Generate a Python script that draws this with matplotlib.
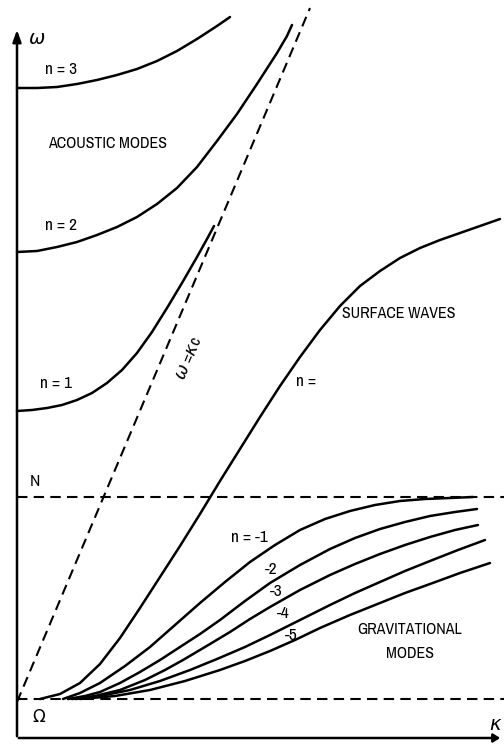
import matplotlib
matplotlib.use("Agg")
import matplotlib.pyplot as plt
from matplotlib import font_manager

# dispersion diagram, units (kappa -> right, omega -> up)
omega_rot = 39      # Omega level
omega_bv = 241      # N level
kappa_max = 487
omega_top = 711

acoustic_n3_k = [0, 20, 40, 60, 80, 100, 120, 140, 160, 180, 200, 213]
acoustic_n3_w = [650, 650, 651, 654, 658, 663, 669, 677, 687, 699, 712, 721]
acoustic_n2_k = [0, 20, 40, 60, 80, 100, 120, 140, 160, 180, 200, 220, 240, 260, 270, 275]
acoustic_n2_w = [486, 487, 491, 496, 503, 511, 521, 534, 550, 571, 597, 624, 654, 685, 702, 713]
acoustic_n1_k = [0, 15, 30, 45, 60, 75, 90, 105, 120, 135, 150, 165, 180, 190, 197]
acoustic_n1_w = [327, 328, 330, 333, 338, 345, 355, 368, 385, 406, 430, 455, 481, 499, 512]

sound_k = [0, 293]
sound_w = [36, 730]

surface_k = [23, 43, 63, 83, 103, 123, 143, 163, 183, 203, 223, 243,
             263, 283, 303, 323, 343, 363, 383, 403, 423, 443, 463, 483]
surface_w = [39, 44, 55, 74, 100, 130, 161, 192, 224, 257, 289, 321,
             352, 381, 408, 432, 452, 467, 480, 490, 498, 505, 512, 519]

grav_k = {
    -1: [46, 63, 83, 108, 133, 158, 183, 208, 233, 258, 283, 308, 333, 358, 383, 408, 433, 456],
    -2: [51, 68, 83, 103, 123, 143, 163, 183, 203, 228, 253, 283, 313, 338, 363, 388, 413, 438, 460],
    -3: [55, 78, 103, 128, 148, 166, 188, 213, 233, 253, 283, 313, 338, 363, 388, 413, 438, 461],
    -4: [59, 83, 113, 143, 173, 200, 228, 253, 283, 313, 338, 363, 388, 413, 441, 468],
    -5: [63, 98, 133, 168, 203, 228, 253, 278, 303, 333, 363, 388, 413, 443, 473],
}
grav_w = {
    -1: [39, 45, 55, 72, 91, 113, 135, 156, 176, 193, 208, 219, 227, 233, 237, 239, 240, 241],
    -2: [39, 42, 46, 55, 66, 78, 91, 104, 118, 137, 155, 173, 189, 200, 209, 216, 222, 226, 229],
    -3: [39, 42, 48, 58, 68, 78, 91, 106, 119, 131, 148, 163, 174, 184, 193, 201, 208, 213],
    -4: [39, 42, 48, 57, 68, 79, 91, 103, 118, 133, 145, 156, 167, 177, 188, 198],
    -5: [39, 42, 48, 57, 68, 77, 87, 98, 110, 123, 135, 145, 154, 165, 175],
}
grav_labels = ["n = -1", "-2", "-3", "-4", "-5"]
grav_label_pos = [(214, 201), (248, 169), (253, 147), (260, 124), (268, 102)]


def pick_narrow_font():
    fonts = font_manager.fontManager.ttflist
    plain = [f for f in fonts if f.style == "normal" and f.weight in (400, "normal", "regular")]
    for key in ("Narrow", "Condensed"):
        for f in plain:
            if key in f.name and "Mono" not in f.name and "Serif" not in f.name:
                return font_manager.FontProperties(fname=f.fname)
    for f in plain:
        if f.stretch in ("condensed", "semi-condensed") and "Mono" not in f.name and "Serif" not in f.name:
            return font_manager.FontProperties(fname=f.fname)
    return font_manager.FontProperties(family="DejaVu Sans", stretch="condensed")


label_font = pick_narrow_font()
plt.rcParams["mathtext.fontset"] = "dejavusans"

fig = plt.figure(figsize=(5.04, 7.44), dpi=100)
ax = fig.add_axes([0, 0, 1, 1])
ax.set_xlim(-17, 487)
ax.set_ylim(-6, 738)
ax.axis("off")

solid = dict(color="black", lw=1.8, solid_joinstyle="round", solid_capstyle="round")
dash = dict(color="black", lw=1.5, dashes=(5, 3))

# axes with arrows
ax.annotate("", xy=(0, omega_top), xytext=(0, -1),
            arrowprops=dict(arrowstyle="-|>,head_length=0.7,head_width=0.25", color="black", lw=1.8))
ax.annotate("", xy=(kappa_max - 1, 0), xytext=(-1, 0),
            arrowprops=dict(arrowstyle="-|>,head_length=0.4,head_width=0.25", color="black", lw=1.8))

ax.plot([0, kappa_max], [omega_rot, omega_rot], **dash)
ax.plot([0, kappa_max], [omega_bv, omega_bv], **dash)
ax.plot(sound_k, sound_w, **dash)

ax.plot(acoustic_n3_k, acoustic_n3_w, **solid)
ax.plot(acoustic_n2_k, acoustic_n2_w, **solid)
ax.plot(acoustic_n1_k, acoustic_n1_w, **solid)
ax.plot(surface_k, surface_w, **solid)
for n in grav_k:
    ax.plot(grav_k[n], grav_w[n], **solid)

lab = dict(fontproperties=label_font, fontsize=11.5, va="center")
nlab = dict(fontproperties=label_font, fontsize=12.5, va="center")
ax.text(11, 699, r"$\omega$", fontsize=14, va="center")
ax.text(15, 21, r"$\Omega$", fontsize=12, va="center")
ax.text(472, 14, r"$\kappa$", fontsize=14, va="center")
ax.text(13, 257, "N", **nlab)

ax.text(28, 669, "n = 3", **nlab)
ax.text(28, 512, "n = 2", **nlab)
ax.text(23, 355, "n = 1", **nlab)
ax.text(31, 594, "ACOUSTIC MODES", **lab)
ax.text(325, 424, "SURFACE WAVES", **lab)
ax.text(279, 356, "n =", **nlab)
ax.text(172, 380, r"$\omega$ =$\kappa$c", ha="center", rotation=67,
        fontproperties=label_font, fontsize=12.5, va="center")

for txt, (x, y) in zip(grav_labels, grav_label_pos):
    ax.text(x, y, txt, **nlab)
ax.text(393, 108, "GRAVITATIONAL", ha="center", **lab)
ax.text(393, 85, "MODES", ha="center", **lab)

fig.savefig("out.png", dpi=100)
